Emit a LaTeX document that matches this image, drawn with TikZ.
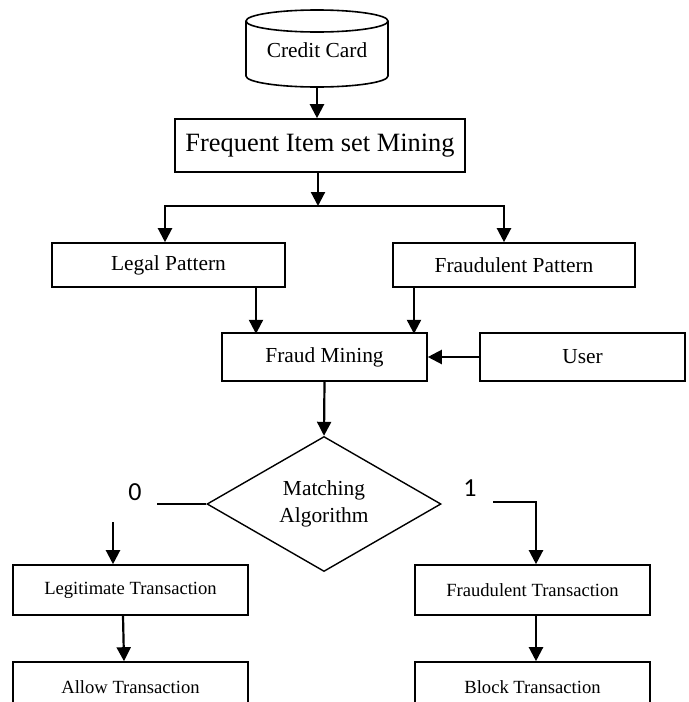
\documentclass[tikz,border=0pt]{standalone}
\usepackage{fontspec}
\setmainfont{Liberation Serif}
\newfontfamily\digitfont{Carlito}
\usepackage{tikz}
\usetikzlibrary{shapes.geometric}
\usetikzlibrary{arrows.meta}
\usetikzlibrary{positioning}

\begin{document}
\begin{tikzpicture}
    [
    x=0.5pt,y=-0.5pt,
    box/.style={rectangle,draw,line width=0.8pt,inner sep=0pt,font=\fontsize{10.7}{12}\selectfont},
    smallbox/.style={box,minimum width=117.5pt,minimum height=25pt,font=\fontsize{9.3}{11}\selectfont},
    flow/.style={line width=1.1pt,-{Triangle[length=7pt,width=7pt]}},
    plain/.style={line width=1.1pt},
    digit/.style={inner sep=0pt,font=\digitfont\fontsize{13}{15}\selectfont},
    ]
    \useasboundingbox (0,0) rectangle (689,702);

    \node (card) at (317,50) [inner sep=0pt,minimum width=71pt,minimum height=37pt,font=\fontsize{10.7}{12}\selectfont] {Credit Card};
    \draw [line width=0.8pt] (246,21) -- (246,76) arc [start angle=180,end angle=360,x radius=35.5pt,y radius=5.5pt] -- (388,21);
    \draw [line width=0.8pt] (317,21) ellipse [x radius=35.5pt,y radius=5.5pt];

    \node (freq) at (320,145.5) [box,minimum width=145pt,minimum height=26.5pt,font=\fontsize{13.2}{15}\selectfont] {Frequent Item set Mining};
    \node (legal) at (168.5,265) [box,minimum width=116.5pt,minimum height=22pt] {Legal Pattern};
    \node (fpat) at (514,265) [box,minimum width=121pt,minimum height=22pt] {Fraudulent Pattern};
    \node (fmine) at (324.5,357) [box,minimum width=102.5pt,minimum height=24pt] {Fraud Mining};
    \node (user) at (582.5,357) [box,minimum width=102.5pt,minimum height=24pt] {User};
    \node (match) at (324,504) [diamond,draw,line width=0.7pt,inner sep=0pt,aspect=1.7,minimum width=117pt,minimum height=67.5pt,align=center,font=\fontsize{10.7}{13.5}\selectfont] {Matching\\Algorithm};
    \node (legit) at (130.5,590) [smallbox] {Legitimate Transaction};
    \node (ftrans) at (532.5,590) [smallbox] {Fraudulent Transaction};
    \node (allow) at (130.5,687) [smallbox] {Allow Transaction};
    \node (block) at (532.5,687) [smallbox] {Block Transaction};

    \node (lbl0) at (135,492) [digit] {0};
    \node (lbl1) at (470,488) [digit] {1};

    \coordinate (split) at (318,206);
    \coordinate (zero) at (113,522);
    \coordinate (one) at (493,502);

    \draw [flow] (card.south) to (card.south |- freq.north);
    \draw [flow] (split |- freq.south) to (split);
    \draw [flow] (split) -| ([xshift=-1.75pt]legal.north);
    \draw [flow] (split) -| ([xshift=-5pt]fpat.north);
    \draw [flow] ([xshift=43.75pt]legal.south) to ++(0,46);
    \draw [flow] ([xshift=-50pt]fpat.south) to ++(0,46);
    \draw [flow] (user.west) to (fmine.east);
    \draw [flow] (fmine.south) to (match.north);

    \draw [line width=0.8pt] (match.west) to ++(-49,0);
    \draw [flow] (zero) to (zero |- legit.north);
    \draw [flow] (one) -| ([xshift=1.75pt]ftrans.north);

    \draw [flow] ([xshift=-3.75pt]legit.south) to ([xshift=-3.25pt]allow.north);
    \draw [flow] ([xshift=1.75pt]ftrans.south) to ([xshift=1.75pt]block.north);
  \end{tikzpicture}
\end{document}
